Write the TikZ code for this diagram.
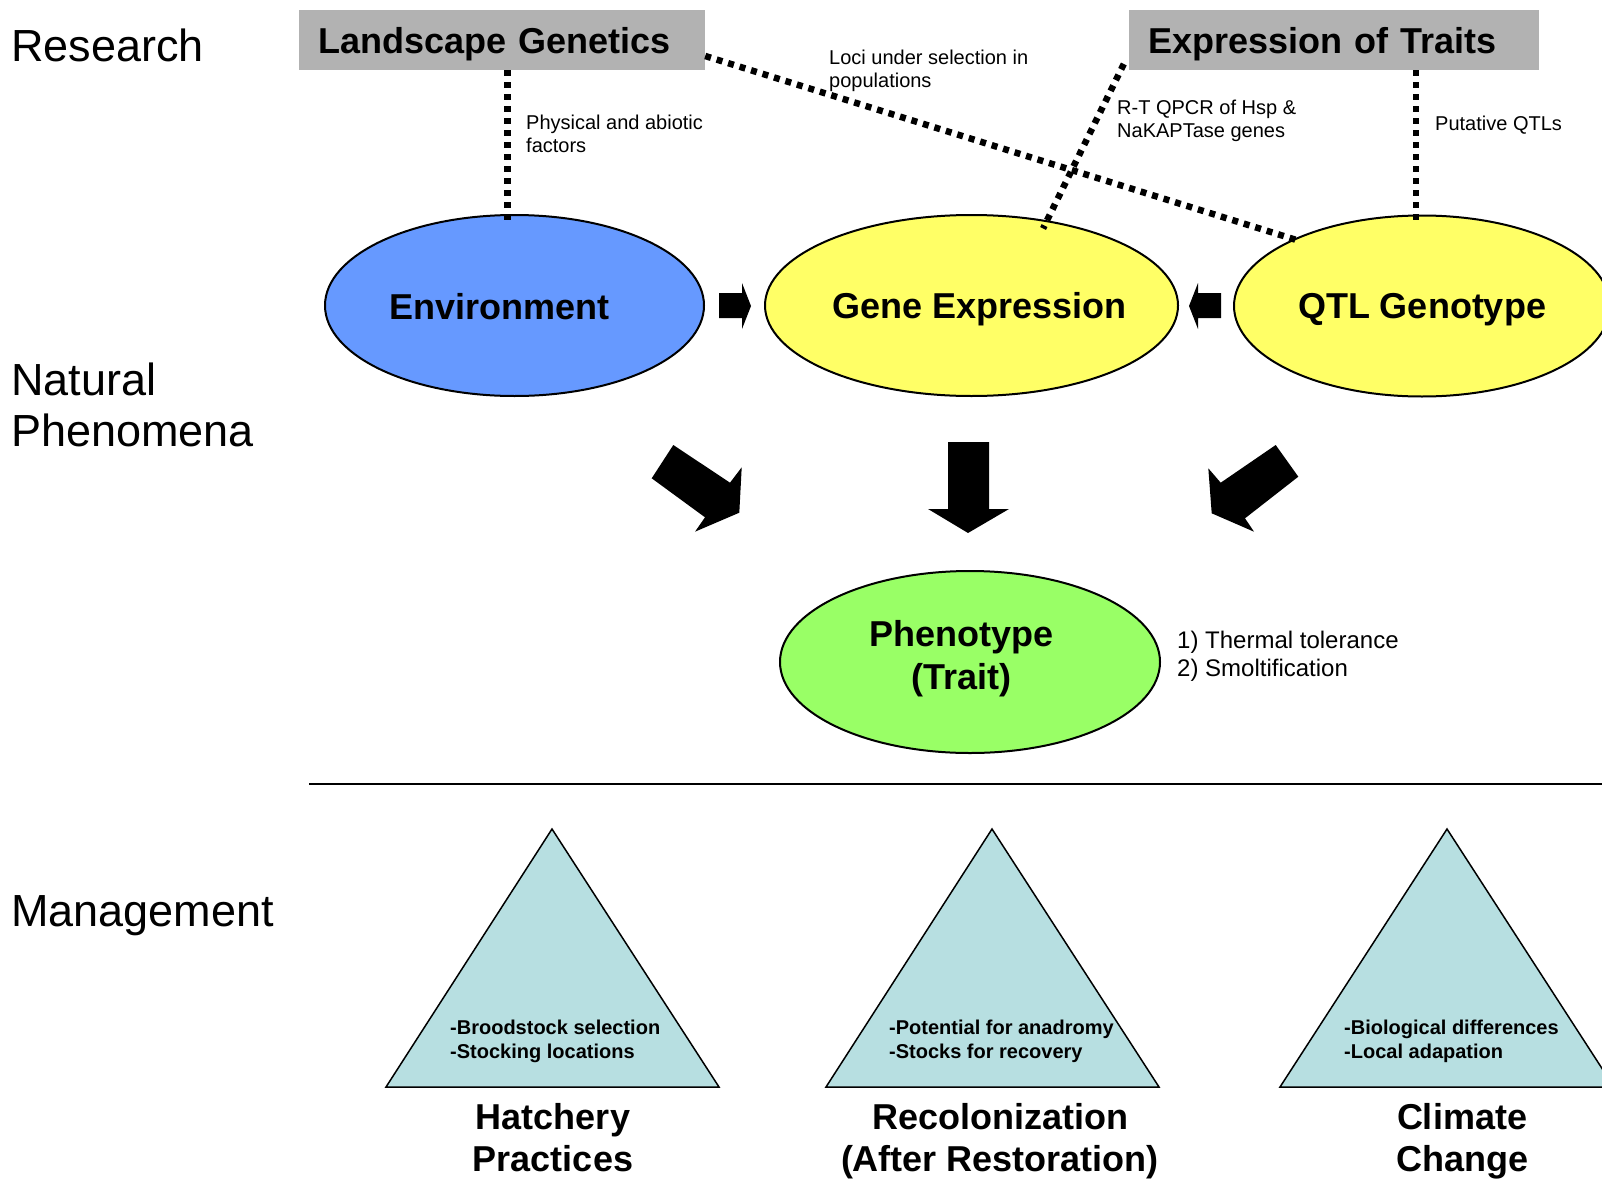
\documentclass[tikz,border=0pt]{standalone}
\usepackage{fontspec}
\setmainfont{Liberation Sans}
\usetikzlibrary{shapes.geometric,calc}
\definecolor{envblue}{HTML}{6699FF}
\definecolor{genyellow}{HTML}{FFFF66}
\definecolor{phengreen}{HTML}{99FF66}
\definecolor{boxgray}{HTML}{B2B2B2}
\definecolor{tricyan}{HTML}{B7DFE1}
\begin{document}
\begin{tikzpicture}[x=1pt,y=-1pt,
  sect/.style={anchor=base west, font=\fontsize{45}{51}\selectfont, align=left, inner sep=0pt},
  resbox/.style={fill=boxgray, minimum height=60pt, inner xsep=19pt, inner ysep=0pt, text depth=0pt, font=\bfseries\fontsize{36}{43}\selectfont, align=left},
  ell/.style={ellipse, draw=black, line width=2pt, inner sep=0pt},
  eltext/.style={font=\bfseries\fontsize{36}{43}\selectfont, align=center, inner sep=0pt},
  small/.style={anchor=base west, font=\fontsize{20}{23}\selectfont, align=left, inner sep=0pt},
  dotline/.style={line width=6.5pt, dash pattern=on 6pt off 6pt},
  blockarrow/.style={fill=black},
  tri/.style={fill=tricyan, draw=black, line width=1.5pt, line join=miter},
  tritext/.style={anchor=base west, font=\bfseries\fontsize{20}{24}\selectfont, align=left, inner sep=0pt},
  mgmt/.style={anchor=base, font=\bfseries\fontsize{36}{42}\selectfont, align=center, inner sep=0pt}]
\useasboundingbox (0,0) rectangle (1602,1180);
\clip (0,0) rectangle (1602,1180);

% section labels (multi-line nodes: base = baseline of last line)
\node[sect] (research) at (11,62) {Research};
\node[sect] (natural) at (11,446) {Natural\\Phenomena};
\node[sect] (management) at (11,926) {Management};

% research boxes
\node[resbox, text width=368pt] (lg) at (502,40) {Landscape Genetics};
\node[resbox, text width=372pt] (eot) at (1334,40) {Expression of Traits};

% ellipses
\node[ell, fill=envblue, minimum width=379pt, minimum height=181pt,
  label={[eltext,xshift=-15pt,yshift=-1pt]center:Environment}] (env) at (514.5,305.5) {};
\node[ell, fill=genyellow, minimum width=413pt, minimum height=181pt,
  label={[eltext,xshift=8pt,yshift=-4pt]center:Gene Expression}] (gene) at (971.5,305.5) {};
\node[ell, fill=genyellow, minimum width=376pt, minimum height=181pt,
  label={[eltext,yshift=-4pt]center:QTL Genotype}] (qtl) at (1422,306) {};
\node[ell, fill=phengreen, minimum width=380pt, minimum height=182pt,
  label={[eltext,xshift=-9pt,yshift=3pt]center:Phenotype\\(Trait)}] (phen) at (970,662) {};

% dotted research links
\coordinate (envtop) at ([xshift=-7pt,yshift=-7pt]env.north);
\coordinate (qtltop) at ([xshift=-6pt,yshift=-7pt]qtl.north);
\draw[dotline] (lg.south -| envtop) -- (envtop);
\draw[dotline] ([yshift=-16pt]lg.east) -- ([xshift=6pt,yshift=-3pt]qtl.152);
\draw[dotline] ([xshift=-5pt,yshift=-24pt]eot.west) -- ([xshift=-5pt,yshift=-8pt]gene.48);
\draw[dotline] (eot.south -| qtltop) -- (qtltop);

% research link labels
\node[small] (physlbl) at (526,152) {Physical and abiotic\\factors};
\node[small] (locilbl) at (829,88) {Loci under selection in\\populations};
\node[small] (rtlbl) at (1117,137) {R-T QPCR of Hsp \&\\NaKAPTase genes};
\node[small] (qtllbl) at (1435,130) {Putative QTLs};

% small block arrows
\fill[blockarrow] (719,293) -- (742,293) -- (742,283) -- (751,306) -- (742,329) -- (742,318) -- (719,318) -- cycle;
\fill[blockarrow] (1221,293) -- (1198,293) -- (1198,283) -- (1189,306) -- (1198,329) -- (1198,318) -- (1221,318) -- cycle;

% big block arrows
\fill[blockarrow] (673.3,445) -- (730,482.7) -- (741.7,467.3) -- (739.3,512.7) -- (695,531.7) -- (705,517.3) -- (651.7,478.3) -- cycle;
\fill[blockarrow] (948,442) -- (989,442) -- (989,509) -- (1009,509) -- (968,533) -- (928,509) -- (948,509) -- cycle;
\fill[blockarrow] (1275.7,445) -- (1298.3,476.7) -- (1245,518.3) -- (1254,531.7) -- (1211.7,513.3) -- (1208.3,468.3) -- (1220.7,482.7) -- cycle;

% traits list
\node[anchor=base west, font=\fontsize{24}{28}\selectfont, align=left, inner sep=0pt] (traits) at (1177,676) {1) Thermal tolerance\\2) Smoltification};

% separator
\draw[line width=2pt] (309,784) -- (1602,784);

% management triangles
\filldraw[tri] (552,829) -- (719,1087) -- (386,1087) -- cycle;
\filldraw[tri] (992,829) -- (1159,1087) -- (826,1087) -- cycle;
\filldraw[tri] (1447,829) -- (1614,1087) -- (1280,1087) -- cycle;

\node[tritext] (t1) at (450,1058) {-Broodstock selection\\-Stocking locations};
\node[tritext] (t2) at (889,1058) {-Potential for anadromy\\-Stocks for recovery};
\node[tritext] (t3) at (1344,1058) {-Biological differences\\-Local adapation};

\node[mgmt] (hatch) at (553,1171) {Hatchery\\Practices};
\node[mgmt] (recol) at (1000,1171) {Recolonization\\(After Restoration)};
\node[mgmt] (clim) at (1462,1171) {Climate\\Change};
\end{tikzpicture}
\end{document}
